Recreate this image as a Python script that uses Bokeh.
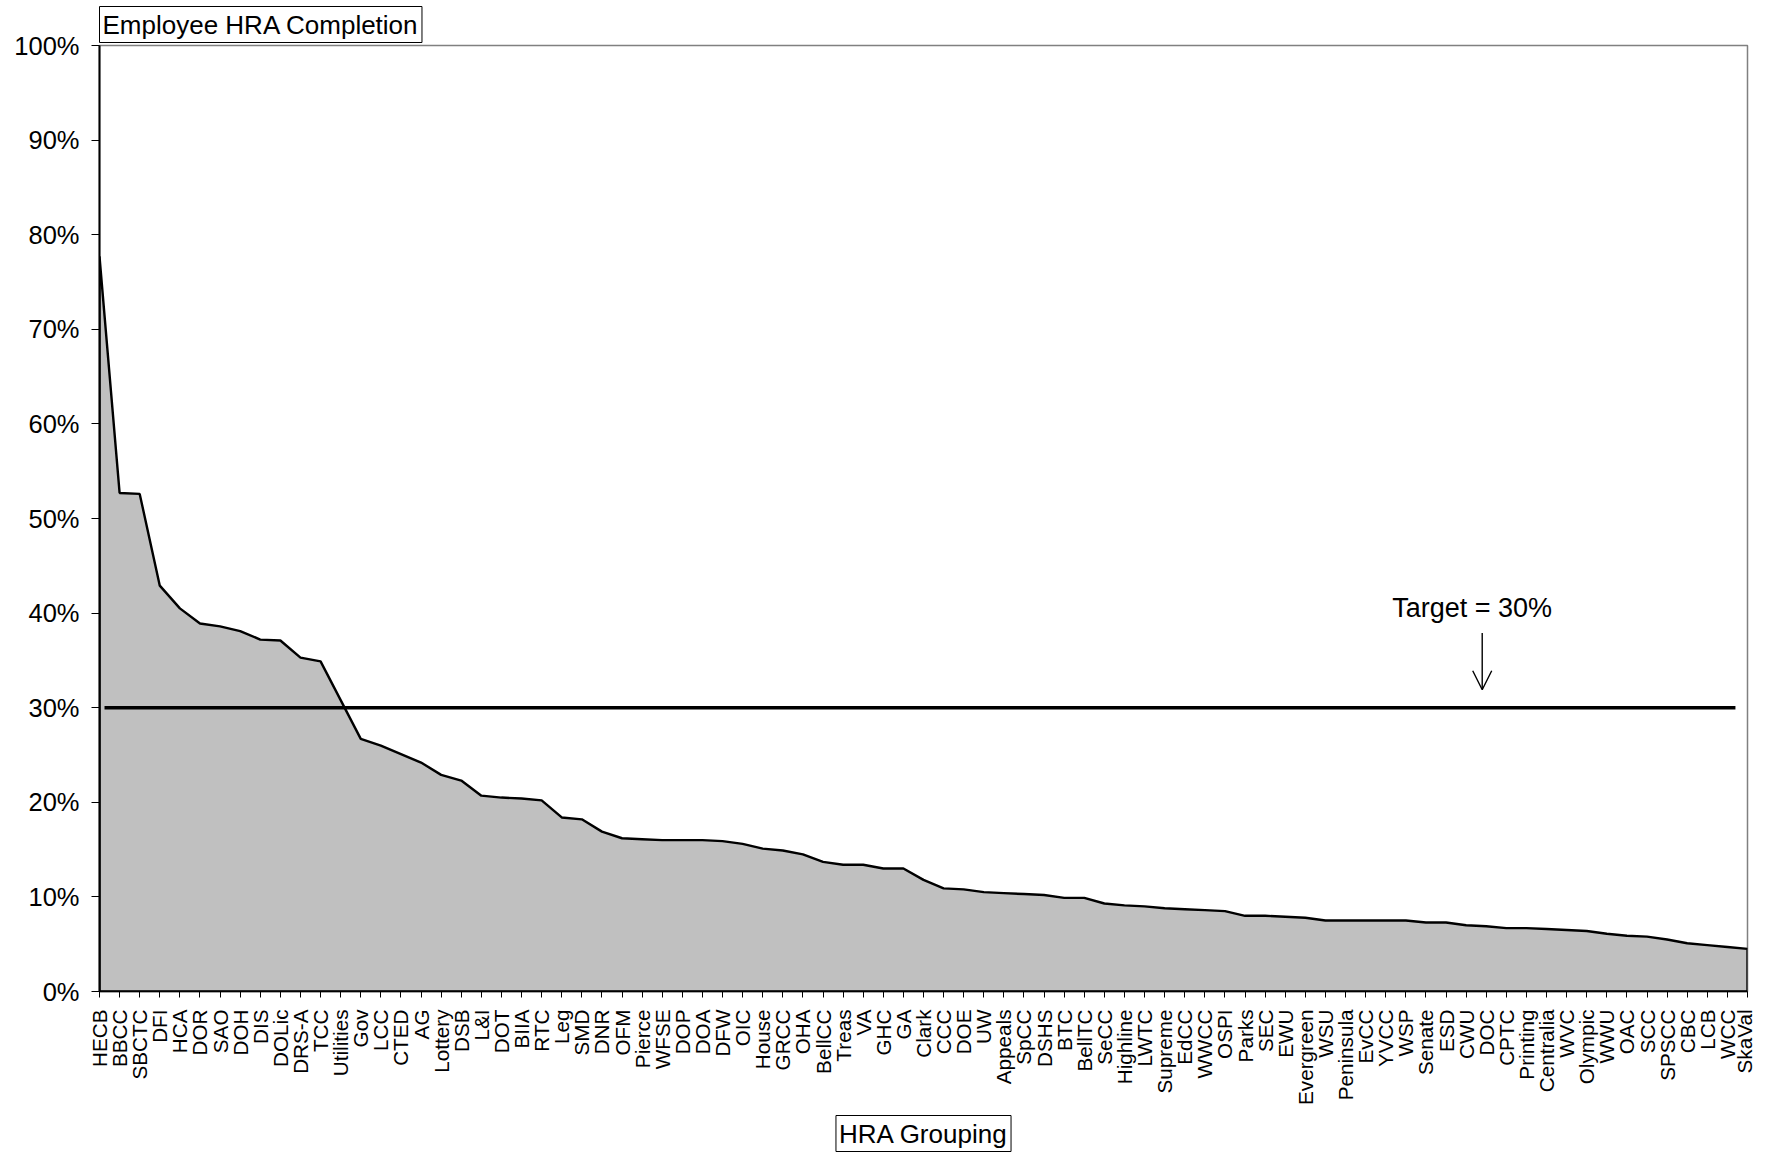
import math
from bokeh.plotting import figure
from bokeh.models import Range1d, FixedTicker, PrintfTickFormatter, Label, Arrow, OpenHead, Title
from bokeh.embed import file_html
from bokeh.resources import INLINE

# ---- data ----
groups = ["HECB", "BBCC", "SBCTC", "DFI", "HCA", "DOR", "SAO", "DOH", "DIS", "DOLic",
          "DRS-A", "TCC", "Utilities", "Gov", "LCC", "CTED", "AG", "Lottery", "DSB", "L&I",
          "DOT", "BIIA", "RTC", "Leg", "SMD", "DNR", "OFM", "Pierce", "WFSE", "DOP",
          "DOA", "DFW", "OIC", "House", "GRCC", "OHA", "BellCC", "Treas", "VA", "GHC",
          "GA", "Clark", "CCC", "DOE", "UW", "Appeals", "SpCC", "DSHS", "BTC", "BellTC",
          "SeCC", "Highline", "LWTC", "Supreme", "EdCC", "WWCC", "OSPI", "Parks", "SEC", "EWU",
          "Evergreen", "WSU", "Peninsula", "EvCC", "YVCC", "WSP", "Senate", "ESD", "CWU", "DOC",
          "CPTC", "Printing", "Centralia", "WVC", "Olympic", "WWU", "OAC", "SCC", "SPSCC", "CBC",
          "LCB", "WCC", "SkaVal"]
completion = [77.7, 52.7, 52.6, 42.9, 40.5, 38.9, 38.6, 38.1, 37.2, 37.1,
              35.3, 34.9, 30.8, 26.7, 26.0, 25.1, 24.2, 22.9, 22.3, 20.7,
              20.5, 20.4, 20.2, 18.4, 18.2, 16.9, 16.2, 16.1, 16.0, 16.0,
              16.0, 15.9, 15.6, 15.1, 14.9, 14.5, 13.7, 13.4, 13.4, 13.0,
              13.0, 11.8, 10.9, 10.8, 10.5, 10.4, 10.3, 10.2, 9.9, 9.9,
              9.3, 9.1, 9.0, 8.8, 8.7, 8.6, 8.5, 8.0, 8.0, 7.9,
              7.8, 7.5, 7.5, 7.5, 7.5, 7.5, 7.3, 7.3, 7.0, 6.9,
              6.7, 6.7, 6.6, 6.5, 6.4, 6.1, 5.9, 5.8, 5.5, 5.1,
              4.9, 4.7, 4.5]
target = 30
y_ticks = [0, 10, 20, 30, 40, 50, 60, 70, 80, 90, 100]
chart_title = "Employee HRA Completion"
x_title = "HRA Grouping"
target_text = "Target = 30%"

FONT = "Liberation Sans"
idx = list(range(len(groups)))

p = figure(width=1755, height=1157, output_backend="svg", toolbar_location=None,
           x_range=Range1d(idx[0], idx[-1]), y_range=Range1d(0, 100),
           min_border_left=99, min_border_right=8, min_border_top=45, min_border_bottom=165)
p.xgrid.visible = False
p.ygrid.visible = False
p.background_fill_color = "white"
p.border_fill_color = "white"
p.outline_line_color = "#808080"
p.outline_line_width = 1.5

# boxed chart title (above)
p.add_layout(Title(text=chart_title, align="left", text_font=FONT,
                   text_font_size="26px", text_font_style="normal", text_color="black",
                   border_line_color="black", border_line_width=1,
                   background_fill_color="white", padding=3, standoff=6), "above")

# area
xs = [idx[0]] + idx + [idx[-1]]
ys = [0] + completion + [0]
p.patch(xs, ys, fill_color="#C0C0C0", line_color="black", line_width=2.4)

# target line
p.line([idx[0] + 0.25, idx[-1] - 0.6], [target, target], line_color="black", line_width=3.6)

# axes
p.yaxis.ticker = FixedTicker(ticks=y_ticks)
p.yaxis.formatter = PrintfTickFormatter(format="%d%%")
p.yaxis.major_label_text_font = FONT
p.yaxis.major_label_text_font_size = "25.5px"
p.yaxis.major_label_text_color = "black"
p.yaxis.major_tick_out = 8
p.yaxis.major_tick_in = 0
p.yaxis.minor_tick_out = 0
p.yaxis.minor_tick_in = 0
p.yaxis.major_label_standoff = 12
p.yaxis.axis_line_color = "black"
p.yaxis.axis_line_width = 2
p.yaxis.major_tick_line_color = "black"

p.xaxis.ticker = FixedTicker(ticks=idx)
p.xaxis.major_label_overrides = {i: g for i, g in zip(idx, groups)}
p.xaxis.major_label_orientation = math.pi / 2
p.xaxis.major_label_text_font = FONT
p.xaxis.major_label_text_font_size = "20.7px"
p.xaxis.major_label_text_color = "black"
p.xaxis.major_tick_out = 6
p.xaxis.major_tick_in = 0
p.xaxis.minor_tick_out = 0
p.xaxis.minor_tick_in = 0
p.xaxis.major_label_standoff = 12
p.xaxis.axis_line_color = "black"
p.xaxis.axis_line_width = 1.5
p.xaxis.major_tick_line_color = "black"

# boxed x title (below)
p.add_layout(Title(text=x_title, align="center", text_font=FONT,
                   text_font_size="26px", text_font_style="normal", text_color="black",
                   border_line_color="black", border_line_width=1,
                   background_fill_color="white", padding=3, standoff=12), "below")

# target annotation
p.add_layout(Label(x=68.3, y=40.5, text=target_text, text_align="center",
                   text_baseline="alphabetic", text_font=FONT,
                   text_font_size="27px", text_color="black"))
p.add_layout(Arrow(x_start=68.8, y_start=37.9, x_end=68.8, y_end=31.9,
                   line_color="black", line_width=1.4,
                   end=OpenHead(size=19, line_color="black", line_width=1.4)))

open("out.html", "w").write(file_html(p, INLINE))
